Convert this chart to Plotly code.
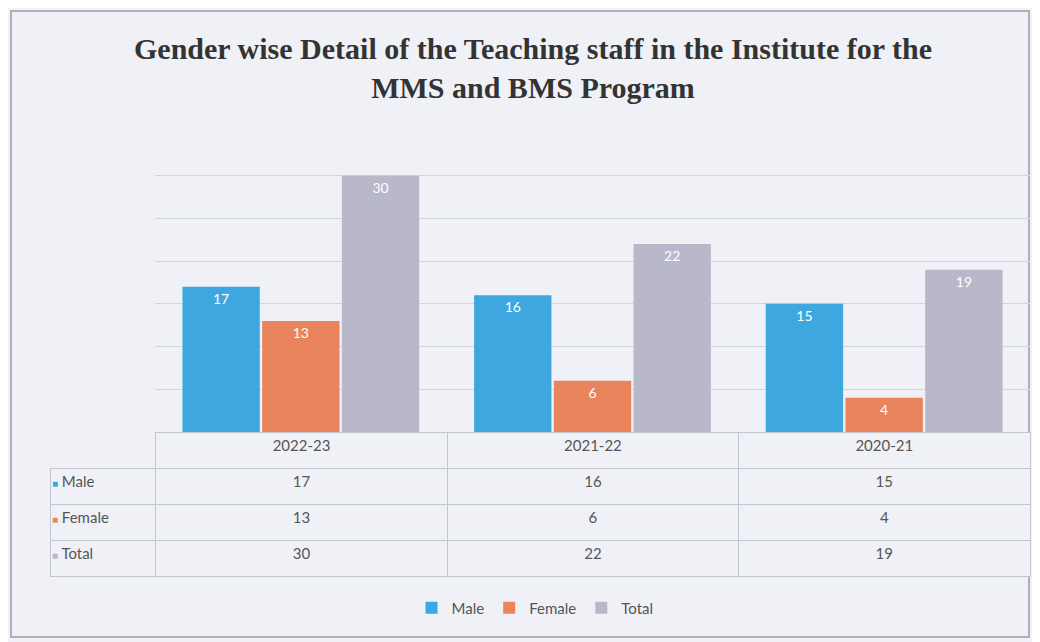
import plotly.graph_objects as go

years = ["2022-23", "2021-22", "2020-21"]
series_names = ["Male", "Female", "Total"]
male = [17, 16, 15]
female = [13, 6, 4]
total = [30, 22, 19]
series_values = [male, female, total]
colors = ["#3ea7e0", "#e9845c", "#b8b8ca"]

OFF = 8  # page body margin
W, H = 1040 - OFF, 642 - OFF
ML, MR, MT, MB = 50 - OFF, 18 - OFF, 12, 12
PW, PH = W - ML - MR, H - MT - MB


def py(p):
    return (H - MB - (p - OFF)) / PH


def px(p):
    return (p - OFF - ML) / PW


BG = "#eff1f6"
GRID = "#d3d5de"
TXT = "#555555"
LINE = "#c4c6cf"
TABLE_FONT = "Liberation Sans Narrow, Lato, sans-serif"

fig = go.Figure()
for name, vals, col in zip(series_names, series_values, colors):
    fig.add_trace(go.Bar(
        x=years, y=vals, name=name, marker_color=col, marker_line_width=0,
        text=[str(v) for v in vals], textposition="inside", insidetextanchor="end",
        textfont=dict(color="white", size=14, family=TABLE_FONT),
        cliponaxis=False,
    ))

# Data table
ROW_TOP, ROW_H = 432, 36
label_cells = ["\u00a0" + n for n in series_names]
year_cols = [[str(s[i]) for s in series_values] for i in range(len(years))]
fig.add_trace(go.Table(
    domain=dict(x=[0, 1], y=[py(ROW_TOP + 4 * ROW_H + 4), py(ROW_TOP)]),
    columnwidth=[105, 289, 289, 289],
    header=dict(
        values=[""] + years,
        align="center",
        height=ROW_H,
        fill_color=[BG, BG, BG, BG],
        line=dict(color=["rgba(0,0,0,0)", LINE, LINE, LINE], width=1),
        font=dict(family=TABLE_FONT, size=15, color=TXT),
    ),
    cells=dict(
        values=[label_cells] + year_cols,
        align=["left", "center", "center", "center"],
        height=ROW_H,
        fill_color=BG,
        line=dict(color=LINE, width=1),
        font=dict(family=TABLE_FONT, size=15, color=TXT),
    ),
))

# legend keys inside the table's first column
key_annotations = [
    dict(text="■", x=px(55), y=py(ROW_TOP + ROW_H * (i + 1.5) - 3), xref="paper", yref="paper",
         xanchor="center", yanchor="middle", showarrow=False,
         font=dict(size=10, color=c))
    for i, c in enumerate(colors)
]

fig.update_layout(
    width=W, height=H,
    margin=dict(l=ML, r=MR, t=MT, b=MB),
    paper_bgcolor=BG, plot_bgcolor=BG,
    barmode="group", bargap=0.18, bargroupgap=0.03,
    title=dict(
        text="Gender wise Detail of the Teaching staff in the Institute for the<br>MMS and BMS Program",
        x=px(533), xref="paper", xanchor="center",
        y=1 - (59 - OFF) / H, yref="container", yanchor="middle",
        font=dict(family="Liberation Serif, Times New Roman, serif", size=30, color="#333333",
                  weight="bold"),
    ),
    xaxis=dict(domain=[px(155), 1], showticklabels=False, ticks="", showgrid=False,
               showline=True, linecolor="#8c8c92", linewidth=2),
    yaxis=dict(domain=[py(432), py(133)], range=[0, 35], dtick=5, showticklabels=False,
               showgrid=True, gridcolor=GRID, gridwidth=1, zeroline=False, ticks=""),
    legend=dict(orientation="h", x=px(535), xanchor="center", y=py(608), yanchor="middle",
                font=dict(family=TABLE_FONT, size=15, color=TXT), bgcolor="rgba(0,0,0,0)",
                itemwidth=30),
    annotations=key_annotations,
    shapes=[dict(type="rect", xref="paper", yref="paper",
                 x0=px(11), x1=px(1029), y0=py(637), y1=py(11),
                 line=dict(color="#9a9aa0", width=1.5), fillcolor="rgba(0,0,0,0)", layer="below")],
)

fig.write_html("out.html")
